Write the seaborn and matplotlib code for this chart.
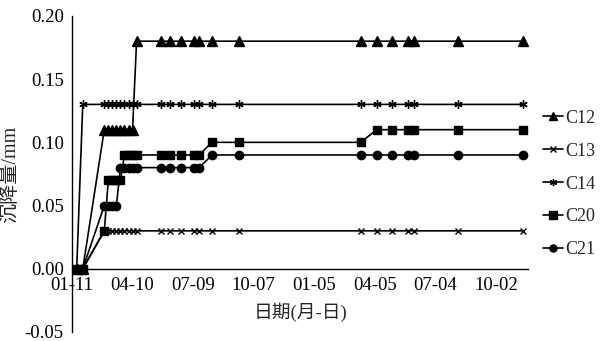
import pandas as pd
import matplotlib
matplotlib.use("Agg")
import matplotlib.pyplot as plt
import matplotlib.dates as mdates
from matplotlib.ticker import FormatStrFormatter
import seaborn as sns

sns.set_style("white")
plt.rcParams['font.family'] = ['Liberation Serif', 'Noto Sans CJK SC']
plt.rcParams['axes.unicode_minus'] = False

# measurement dates
dates = ["2008-01-18", "2008-01-27", "2008-02-28", "2008-03-05", "2008-03-11",
         "2008-03-17", "2008-03-23", "2008-03-29", "2008-04-04", "2008-04-10",
         "2008-04-16", "2008-05-22", "2008-06-05", "2008-06-21", "2008-07-11",
         "2008-07-18", "2008-08-06", "2008-09-15", "2009-03-15", "2009-04-08",
         "2009-04-30", "2009-05-24", "2009-06-02", "2009-08-06", "2009-11-11"]

c12 = [0.00, 0.00, 0.11, 0.11, 0.11, 0.11, 0.11, 0.11, 0.11, 0.11, 0.18, 0.18, 0.18,
       0.18, 0.18, 0.18, 0.18, 0.18, 0.18, 0.18, 0.18, 0.18, 0.18, 0.18, 0.18]
c13 = [0.00, 0.00, 0.03, 0.03, 0.03, 0.03, 0.03, 0.03, 0.03, 0.03, 0.03, 0.03, 0.03,
       0.03, 0.03, 0.03, 0.03, 0.03, 0.03, 0.03, 0.03, 0.03, 0.03, 0.03, 0.03]
c14 = [0.00, 0.13, 0.13, 0.13, 0.13, 0.13, 0.13, 0.13, 0.13, 0.13, 0.13, 0.13, 0.13,
       0.13, 0.13, 0.13, 0.13, 0.13, 0.13, 0.13, 0.13, 0.13, 0.13, 0.13, 0.13]
c20 = [0.00, 0.00, 0.03, 0.07, 0.07, 0.07, 0.07, 0.09, 0.09, 0.09, 0.09, 0.09, 0.09,
       0.09, 0.09, 0.09, 0.10, 0.10, 0.10, 0.11, 0.11, 0.11, 0.11, 0.11, 0.11]
c21 = [0.00, 0.00, 0.05, 0.05, 0.05, 0.05, 0.08, 0.08, 0.08, 0.08, 0.08, 0.08, 0.08,
       0.08, 0.08, 0.08, 0.09, 0.09, 0.09, 0.09, 0.09, 0.09, 0.09, 0.09, 0.09]

series = {"C12": c12, "C13": c13, "C14": c14, "C20": c20, "C21": c21}
markers = {"C12": "^", "C13": "x", "C14": (6, 2, 0), "C20": "s", "C21": "o"}
msizes = {"C12": 6.5, "C13": 5, "C14": 6, "C20": 6, "C21": 6}

x = pd.to_datetime(dates)

fig = plt.figure(figsize=(6.05, 3.41), dpi=100)
ax = fig.add_axes([0.119, 0.0264, 0.754, 0.927])

for name, vals in series.items():
    sns.lineplot(x=x, y=vals, ax=ax, color="black", lw=1.2, marker=markers[name],
                 markersize=msizes[name], markeredgecolor="black", markeredgewidth=1.0,
                 label=name)

start = pd.Timestamp("2008-01-11")
ticks = pd.date_range(start, periods=8, freq="90D")
ax.set_xticks(ticks)
ax.xaxis.set_major_formatter(mdates.DateFormatter("%m-%d"))
ax.set_xlim(start, start + pd.Timedelta(days=678))
ax.set_ylim(-0.05, 0.20)
ax.set_yticks([-0.05, 0.00, 0.05, 0.10, 0.15, 0.20])
ax.yaxis.set_major_formatter(FormatStrFormatter("%.2f"))

ax.spines["top"].set_visible(False)
ax.spines["right"].set_visible(False)
ax.spines["bottom"].set_position(("data", 0))
for s in ("left", "bottom"):
    ax.spines[s].set_color("black")
    ax.spines[s].set_linewidth(1.0)

ax.tick_params(axis="x", direction="in", length=4, width=1, labelsize=13.5, pad=6, colors="black")
ax.tick_params(axis="y", direction="out", length=4, width=1, labelsize=13.5, pad=2, colors="black")
ax.set_xlabel("日期(月-日)", fontsize=13.5, labelpad=6)
ax.set_ylabel("沉降量/mm", fontsize=14.5, labelpad=3)

ax.legend(loc="center left", bbox_to_anchor=(1.033, 0.468), frameon=False, fontsize=13,
          handlelength=1.1, handletextpad=0.1, labelspacing=0.88, borderpad=0, borderaxespad=0,
          markerscale=0.85)

fig.savefig("out.png", dpi=100)
